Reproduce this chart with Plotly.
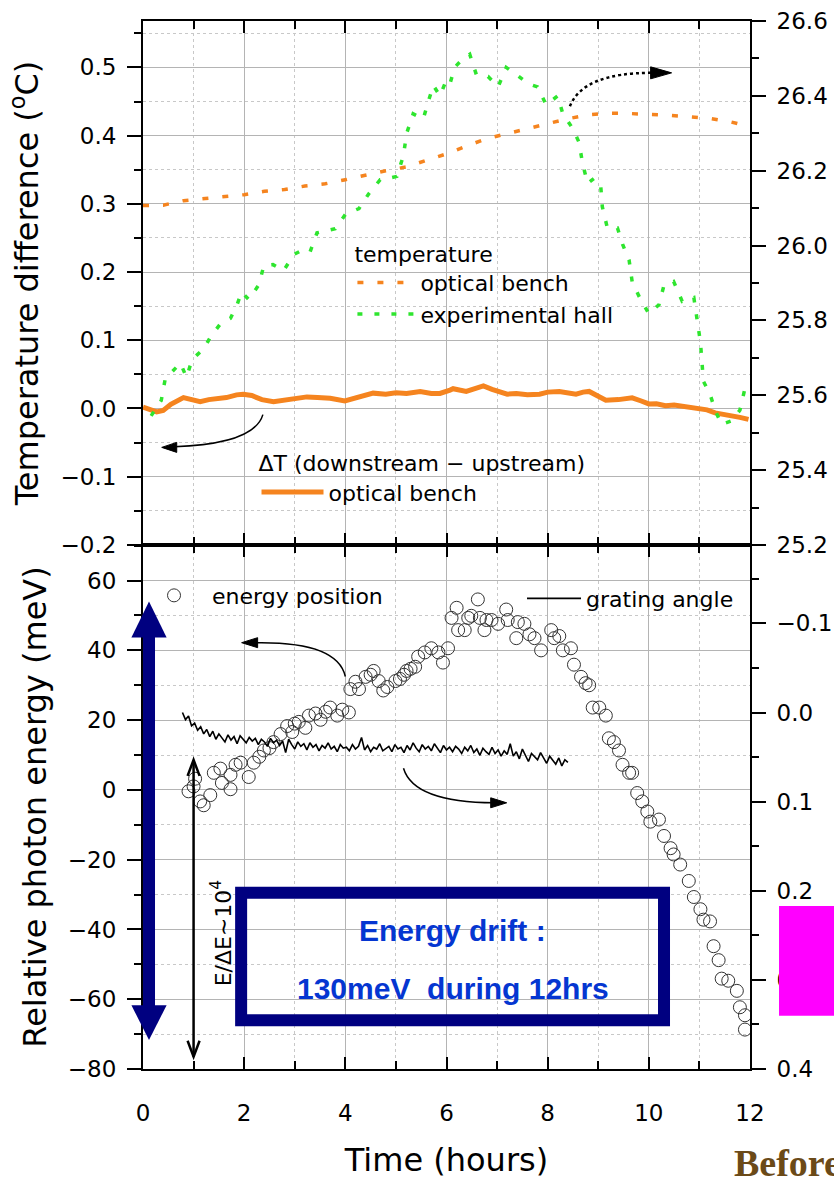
import plotly.graph_objects as go

# ---------------- data ----------------
# top panel, right axis: temperatures (degC)
temp_hours = [0, 0.4, 0.8, 1.2, 1.6, 2.0, 2.4, 2.8, 3.2, 3.6, 4.0, 4.4, 4.8, 5.2, 5.6, 6.0,
              6.4, 6.8, 7.2, 7.6, 8.0, 8.4, 8.8, 9.2, 9.6, 10.0, 10.4, 10.8, 11.2, 11.6, 12.0]
bench_temp = [26.107, 26.108, 26.120, 26.125, 26.130, 26.136, 26.145, 26.150, 26.159, 26.165,
              26.176, 26.189, 26.200, 26.210, 26.228, 26.245, 26.266, 26.286, 26.299, 26.312,
              26.326, 26.339, 26.349, 26.354, 26.353, 26.351, 26.348, 26.344, 26.340, 26.331, 26.318]

hall_hours = [0.16, 0.36, 0.44, 0.57, 0.74, 0.86, 0.97, 1.07, 1.2, 1.33, 1.53, 1.73, 1.86, 1.95,
              2.09, 2.29, 2.39, 2.57, 2.78, 2.98, 3.14, 3.3, 3.44, 3.67, 3.8, 4.0, 4.27, 4.46,
              4.69, 4.86, 5.02, 5.15, 5.21, 5.34, 5.54, 5.64, 5.74, 5.87, 6.0, 6.07, 6.16, 6.26,
              6.46, 6.59, 6.82, 7.02, 7.18, 7.38, 7.61, 7.8, 7.97, 8.2, 8.3, 8.49, 8.62, 8.69,
              8.79, 8.92, 9.05, 9.08, 9.18, 9.38, 9.48, 9.61, 9.67, 9.8, 10.0, 10.2, 10.3, 10.49,
              10.66, 10.89, 10.95, 11.02, 11.05, 11.08, 11.21, 11.31, 11.44, 11.64, 11.8, 11.9, 11.97]
hall_temp = [25.545, 25.586, 25.644, 25.662, 25.686, 25.648, 25.695, 25.708, 25.724, 25.755,
             25.791, 25.806, 25.842, 25.876, 25.856, 25.895, 25.947, 25.949, 25.933, 25.976,
             25.987, 25.982, 26.034, 26.041, 26.045, 26.083, 26.099, 26.138, 26.176, 26.180,
             26.185, 26.241, 26.299, 26.352, 26.338, 26.385, 26.428, 26.400, 26.443, 26.433,
             26.476, 26.490, 26.511, 26.457, 26.452, 26.424, 26.476, 26.457, 26.433, 26.424,
             26.376, 26.400, 26.352, 26.314, 26.276, 26.219, 26.166, 26.180, 26.157, 26.104,
             26.047, 26.047, 26.004, 25.961, 25.904, 25.866, 25.818, 25.842, 25.894, 25.904,
             25.851, 25.861, 25.799, 25.742, 25.689, 25.637, 25.603, 25.560, 25.522, 25.532,
             25.560, 25.618, 25.635]

# top panel, left axis: delta T of the optical bench (degC)
dT_hours = [0.0, 0.1, 0.27, 0.4, 0.55, 0.8, 1.0, 1.13, 1.3, 1.46, 1.65, 1.85, 1.98, 2.15, 2.35,
            2.58, 2.8, 3.0, 3.24, 3.45, 3.7, 3.99, 4.2, 4.4, 4.55, 4.8, 5.0, 5.21, 5.48, 5.7,
            5.87, 6.07, 6.13, 6.39, 6.6, 6.73, 6.9, 7.05, 7.2, 7.38, 7.6, 7.84, 8.0, 8.23, 8.4,
            8.56, 8.7, 8.82, 9.0, 9.15, 9.4, 9.67, 9.85, 10.0, 10.15, 10.33, 10.5, 10.66, 10.8,
            10.98, 11.15, 11.31, 11.45, 11.64, 11.8, 11.97]
dT_bench = [0.002, 0.0, -0.005, -0.003, 0.006, 0.016, 0.013, 0.010, 0.013, 0.014, 0.016, 0.020,
            0.021, 0.019, 0.013, 0.010, 0.012, 0.014, 0.017, 0.016, 0.015, 0.011, 0.015, 0.020,
            0.0225, 0.021, 0.023, 0.022, 0.025, 0.022, 0.022, 0.027, 0.029, 0.025, 0.030, 0.033,
            0.028, 0.025, 0.021, 0.022, 0.020, 0.021, 0.024, 0.025, 0.022, 0.021, 0.024, 0.025,
            0.018, 0.012, 0.013, 0.0156, 0.011, 0.0067, 0.007, 0.004, 0.005, 0.003, 0.002,
            -0.001, -0.002, -0.0065, -0.008, -0.0107, -0.013, -0.016]

# bottom panel, left axis: relative photon energy (meV)
energy_hours = [0.9, 1.0, 1.03, 1.13, 1.2, 1.33, 1.4, 1.53, 1.56, 1.73, 1.73, 1.83, 1.93, 2.09,
                2.19, 2.3, 2.39, 2.5, 2.58, 2.72, 2.85, 2.95, 3.0, 3.08, 3.21, 3.28, 3.41, 3.51,
                3.61, 3.7, 3.84, 3.94, 4.07, 4.1, 4.2, 4.27, 4.4, 4.5, 4.56, 4.66, 4.75, 4.83,
                4.99, 5.08, 5.16, 5.21, 5.29, 5.38, 5.44, 5.57, 5.7, 5.84, 5.93, 6.03, 6.1, 6.2,
                6.23, 6.36, 6.43, 6.49, 6.62, 6.66, 6.75, 6.79, 6.89, 7.02, 7.18, 7.21, 7.38,
                7.41, 7.54, 7.64, 7.74, 7.87, 8.07, 8.13, 8.23, 8.3, 8.46, 8.52, 8.66, 8.75,
                8.82, 8.89, 9.02, 9.15, 9.21, 9.31, 9.41, 9.48, 9.61, 9.67, 9.77, 9.87, 9.97,
                10.03, 10.2, 10.3, 10.43, 10.49, 10.62, 10.79, 10.89, 11.02, 11.08, 11.21, 11.28,
                11.38, 11.44, 11.57, 11.74, 11.8, 11.9, 11.9]
energy_meV = [-0.4, 1.0, 3.2, -3.3, -4.4, -1.5, 4.9, 6.1, 2.0, 4.3, 0.2, 7.2, 7.8, 3.7, 7.8, 9.5,
              11.3, 12.0, 13.7, 16.0, 18.3, 16.6, 19.0, 19.5, 17.8, 21.3, 21.9, 20.1, 22.4, 23.6,
              21.3, 23.0, 22.2, 28.9, 31.0, 28.9, 32.4, 33.0, 34.1, 31.2, 28.5, 29.5, 31.2, 31.8,
              33.0, 34.1, 34.7, 35.3, 38.2, 39.4, 40.6, 39.4, 36.5, 40.6, 49.3, 52.2, 45.8, 45.8,
              49.3, 49.9, 54.6, 49.3, 45.8, 48.7, 48.7, 47.6, 51.7, 48.7, 43.5, 48.1, 47.6, 44.6,
              43.5, 40.0, 45.8, 43.5, 44.1, 40.0, 40.6, 35.9, 32.4, 30.6, 30.0, 23.6, 23.6, 21.3,
              14.8, 13.7, 11.3, 7.2, 4.9, 4.9, -0.9, -3.3, -6.2, -9.1, -8.5, -13.2, -16.7, -18.5,
              -21.4, -26.1, -30.7, -34.2, -37.2, -37.7, -44.8, -48.8, -54.1, -54.7, -57.6, -62.3,
              -64.6, -68.7]

# bottom panel, right axis: grating angle (sampled every 0.06 h from 0.78 h)
grating_start_h = 0.78
grating_step_h = 0.06
grating_angle = [0.000, 0.008, 0.004, 0.015, 0.012, 0.020, 0.016, 0.024,
                 0.019, 0.027, 0.021, 0.030, 0.024, 0.029, 0.033, 0.025, 0.031, 0.027, 0.035, 0.026, 0.030,
                 0.034, 0.028, 0.032, 0.029, 0.036, 0.030, 0.033, 0.038, 0.029, 0.034, 0.031, 0.037, 0.032, 0.045, 0.030, 0.036, 0.041,
                 0.033, 0.038, 0.035, 0.042, 0.034, 0.039, 0.036, 0.043, 0.037, 0.040, 0.034, 0.041, 0.038, 0.044, 0.036, 0.040, 0.039,
                 0.043, 0.036, 0.041, 0.038, 0.028, 0.042, 0.037, 0.044, 0.039, 0.041, 0.035, 0.043, 0.040, 0.038, 0.044, 0.036, 0.041,
                 0.039, 0.045, 0.037, 0.042, 0.034, 0.040, 0.044, 0.036, 0.041, 0.038, 0.043, 0.035, 0.040, 0.045, 0.037, 0.042, 0.039,
                 0.044, 0.038, 0.041, 0.046, 0.039, 0.043, 0.037, 0.045, 0.041, 0.048, 0.040, 0.044, 0.047, 0.039, 0.046, 0.042, 0.049,
                 0.043, 0.047, 0.035, 0.049, 0.044, 0.052, 0.041, 0.048, 0.055, 0.046, 0.050, 0.053, 0.045, 0.051, 0.057, 0.049, 0.054,
                 0.058, 0.051, 0.060, 0.053, 0.056]
grating_hours = [round(grating_start_h + grating_step_h * i, 3) for i in range(len(grating_angle))]

assert len(temp_hours) == len(bench_temp)
assert len(hall_hours) == len(hall_temp)
assert len(dT_hours) == len(dT_bench)
assert len(energy_hours) == len(energy_meV)

# ---------------- styles ----------------
ORANGE = "#F5841F"
GREEN = "#2EE52E"
NAVY = "#000080"
BLUE_TXT = "#0536D1"
GRID = "#B4B4B4"
MGRID = "#C8C8C8"
FONT = "DejaVu Sans"

fig = go.Figure()
fig.add_trace(go.Scatter(x=dT_hours, y=dT_bench, mode="lines", name="optical bench",
                         line=dict(color=ORANGE, width=5), xaxis="x", yaxis="y", legend="legend2"))
fig.add_trace(go.Scatter(x=temp_hours, y=bench_temp, mode="lines", name="optical bench",
                         line=dict(color=ORANGE, width=3.5, dash="6px,14px"),
                         xaxis="x", yaxis="y3", legend="legend"))
fig.add_trace(go.Scatter(x=hall_hours, y=hall_temp, mode="lines", name="experimental hall",
                         line=dict(color=GREEN, width=3.5, dash="5px,12px"),
                         xaxis="x", yaxis="y3", legend="legend"))
fig.add_trace(go.Scatter(x=energy_hours, y=energy_meV, mode="markers", name="energy position",
                         marker=dict(symbol="circle-open", size=13, color="#333333",
                                     line=dict(width=1)),
                         xaxis="x2", yaxis="y2", legend="legend3"))
fig.add_trace(go.Scatter(x=grating_hours, y=grating_angle, mode="lines", name="grating angle",
                         line=dict(color="black", width=1.6), xaxis="x2", yaxis="y4",
                         legend="legend4"))


def xax(**kw):
    d = dict(range=[0, 12], tick0=0, dtick=2, showline=True, linecolor="black", linewidth=2,
             mirror="ticks", ticks="inside", ticklen=12, tickwidth=2, tickcolor="black",
             showgrid=True, gridcolor=GRID, gridwidth=1, zeroline=False, automargin=False,
             minor=dict(dtick=1, ticks="inside", ticklen=8, tickwidth=1.5, tickcolor="black",
                        showgrid=True, gridcolor=MGRID, griddash="dot", gridwidth=1))
    d.update(kw)
    return d


def yax(**kw):
    d = dict(showline=True, linecolor="black", linewidth=2, ticks="outside", ticklen=14,
             tickwidth=2, tickcolor="black", zeroline=False, tickformat=".1f", automargin=False)
    d.update(kw)
    return d


fig.update_layout(
    width=834, height=1179,
    margin=dict(l=143, r=84, t=21, b=110),
    paper_bgcolor="white", plot_bgcolor="white",
    font=dict(family=FONT, size=23, color="black"),
    xaxis=xax(domain=[0, 1], anchor="y", showticklabels=False),
    xaxis2=xax(domain=[0, 1], anchor="y2", ticklabelstandoff=22,
               title=dict(text="Time (hours)", font=dict(size=32), standoff=26)),
    yaxis=yax(domain=[0.5, 1], anchor="x", range=[-0.2001, 0.568], tick0=0, dtick=0.1,
              showgrid=True, gridcolor=GRID, ticklabelstandoff=6,
              minor=dict(dtick=0.05, ticks="outside", ticklen=7, tickwidth=1.5, tickcolor="black",
                         showgrid=True, gridcolor=MGRID, griddash="dot"),
              title=dict(text="Temperature difference (<sup>o</sup>C)", font=dict(size=32),
                         standoff=12)),
    yaxis3=yax(overlaying="y", side="right", anchor="x", range=[25.1999, 26.6001], tick0=25.2,
               dtick=0.2, showgrid=False, ticklabelstandoff=6,
               minor=dict(dtick=0.1, ticks="outside", ticklen=7, tickwidth=1.5, tickcolor="black")),
    yaxis2=yax(domain=[0, 0.5], anchor="x2", range=[-80, 70.2], tick0=0, dtick=20,
               tickformat="d", showgrid=True, gridcolor=GRID, ticklabelstandoff=6,
               minor=dict(dtick=10, ticks="outside", ticklen=7, tickwidth=1.5, tickcolor="black",
                          showgrid=True, gridcolor=MGRID, griddash="dot"),
               title=dict(text="Relative photon energy (meV)", font=dict(size=32), standoff=12)),
    yaxis4=yax(overlaying="y2", side="right", anchor="x2", range=[0.4001, -0.188], tick0=0,
               dtick=0.1, showgrid=False, ticklabelstandoff=6,
               minor=dict(dtick=0.05, ticks="outside", ticklen=7, tickwidth=1.5, tickcolor="black")),
    legend=dict(x=0.345, y=0.7977, xanchor="left", yanchor="top", bgcolor="rgba(0,0,0,0)",
                title=dict(text="temperature", font=dict(size=22)), font=dict(size=22),
                itemwidth=58, tracegroupgap=0),
    legend2=dict(x=0.187, y=0.5977, xanchor="left", yanchor="top", bgcolor="rgba(0,0,0,0)",
                 title=dict(text="ΔT (downstream − upstream)", font=dict(size=22)),
                 font=dict(size=22), itemwidth=62),
    legend3=dict(x=-0.0115, y=0.4718, xanchor="left", yanchor="top", bgcolor="rgba(0,0,0,0)",
                 font=dict(size=22), itemwidth=66),
    legend4=dict(x=0.6244, y=0.4689, xanchor="left", yanchor="top", bgcolor="rgba(0,0,0,0)",
                 font=dict(size=22), itemwidth=54),
    showlegend=True,
)

shapes = []
# curved pointer arrows
shapes.append(dict(type="path", xref="x", yref="y", path="M 2.37,-0.009 Q 2.2,-0.052 0.62,-0.056",
                   line=dict(color="black", width=1.5)))
shapes.append(dict(type="path", xref="x", yref="y", path="M 8.44,0.443 Q 8.7,0.492 10.05,0.492",
                   line=dict(color="black", width=2.5, dash="dot")))
shapes.append(dict(type="path", xref="x2", yref="y2", path="M 4.0,32.5 Q 3.85,42.5 2.25,42.2",
                   line=dict(color="black", width=1.5)))
shapes.append(dict(type="path", xref="x2", yref="y2", path="M 5.15,6.2 Q 5.35,-3.6 6.95,-3.7",
                   line=dict(color="black", width=1.5)))


def head(xref, yref, xa, ya, path, filled=True, width=1.5):
    d = dict(type="path", xref=xref, yref=yref, xsizemode="pixel", ysizemode="pixel",
             xanchor=xa, yanchor=ya, path=path, line=dict(color="black", width=width))
    if filled:
        d["fillcolor"] = "black"
    return d


# arrow heads (pixel-sized, anchored at the tips)
shapes.append(head("x", "y", 0.37, -0.057, "M 0,0 L 15,5 L 15,-5 Z", width=1))
shapes.append(head("x", "y", 10.45, 0.492, "M 0,0 L -21,6 L -21,-6 Z", width=1))
shapes.append(head("x2", "y2", 1.95, 42.2, "M 0,0 L 16,5 L 16,-5 Z", width=1))
shapes.append(head("x2", "y2", 7.19, -3.7, "M 0,0 L -16,5 L -16,-5 Z", width=1))
# E/dE double arrow
shapes.append(dict(type="line", xref="x2", yref="y2", x0=1.0, x1=1.0, y0=-76.5, y1=8.6,
                   line=dict(color="black", width=2.5)))
shapes.append(head("x2", "y2", 1.0, 8.6, "M -6,-16 L 0,0 L 6,-16", filled=False, width=2.5))
shapes.append(head("x2", "y2", 1.0, -76.5, "M -6,16 L 0,0 L 6,16", filled=False, width=2.5))
# navy double arrow
xc, hw = 0.0099, 0.029
shapes.append(dict(type="line", xref="paper", yref="y2", x0=xc, x1=xc, y0=-62, y1=44,
                   line=dict(color=NAVY, width=12)))
shapes.append(dict(type="path", xref="paper", yref="y2",
                   path=f"M {xc-hw},43.7 L {xc+hw},43.7 L {xc},54 Z",
                   fillcolor=NAVY, line=dict(width=0)))
shapes.append(dict(type="path", xref="paper", yref="y2",
                   path=f"M {xc-hw},-61.7 L {xc+hw},-61.7 L {xc},-71.7 Z",
                   fillcolor=NAVY, line=dict(width=0)))
# blue frame
shapes.append(dict(type="rect", xref="x2", yref="y2", x0=1.94, x1=10.3, y0=-66, y1=-29.5,
                   line=dict(color=NAVY, width=12)))
# magenta block at right edge
shapes.append(dict(type="rect", xref="paper", yref="paper", x0=1.0478, x1=1.16, y0=0.0509,
                   y1=0.1555, fillcolor="#FF00FF", line=dict(width=0), layer="above"))
fig.update_layout(shapes=shapes)

ann = []
ann.append(dict(x=1.55, y=-41, xref="x2", yref="y2", text="E/ΔE∼10<sup>4</sup>", textangle=-90,
                showarrow=False, font=dict(size=22, color="black")))
# box text
ann.append(dict(x=6.11, y=-40.2, xref="x2", yref="y2", text="<b>Energy drift :</b>",
                showarrow=False, font=dict(family="Liberation Sans", size=30, color=BLUE_TXT)))
ann.append(dict(x=6.13, y=-56.8, xref="x2", yref="y2", text="<b>130meV\u00a0 during 12hrs</b>",
                showarrow=False, font=dict(family="Liberation Sans", size=30, color=BLUE_TXT)))
# cut-off slide text at the bottom right edge
ann.append(dict(x=0.970, y=-0.0897, xref="paper", yref="paper", xanchor="left", yanchor="middle",
                text="<b>Before</b>", showarrow=False,
                font=dict(family="Liberation Serif", size=38, color="#6B4A18")))
fig.update_layout(annotations=ann)

fig.write_html("out.html")
